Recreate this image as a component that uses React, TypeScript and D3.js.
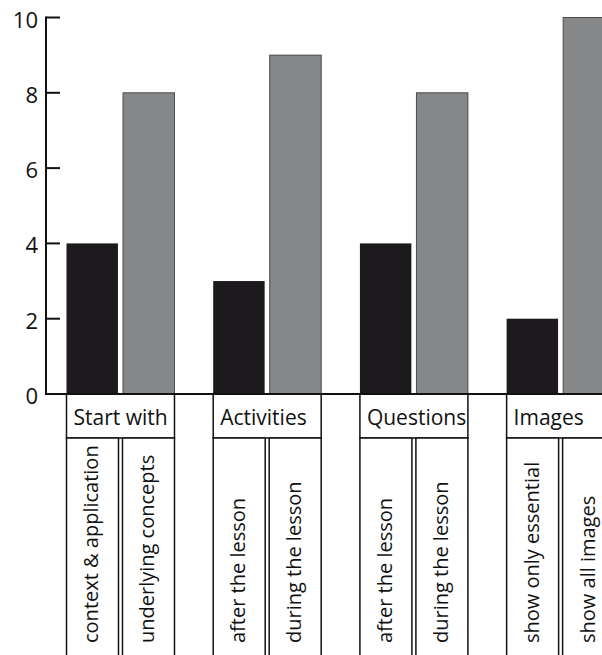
import * as d3 from 'd3';

const categories = ['Start with', 'Activities', 'Questions', 'Images'];
const optionLabels = [
  ['context & application', 'underlying concepts'],
  ['after the lesson', 'during the lesson'],
  ['after the lesson', 'during the lesson'],
  ['show only essential', 'show all images'],
];
const firstValues = [4, 3, 4, 2];
const secondValues = [8, 9, 8, 10];
const yTicks = [0, 2, 4, 6, 8, 10];

const WIDTH = 602;
const HEIGHT = 655;
const FONT = '"Open Sans", sans-serif';

export default function App() {
  const axisX = 46;
  const y = d3.scaleLinear().domain([0, 10]).range([394, 17.5]);
  const x = d3
    .scaleBand<string>()
    .domain(categories)
    .range([66.5, 614.6])
    .paddingInner(0.264)
    .paddingOuter(0);
  const inner = d3
    .scaleBand<number>()
    .domain([0, 1])
    .range([0, x.bandwidth()])
    .paddingInner(0.09);

  const base = y(0);
  const catBottom = base + 44;
  const labelStart = 643;

  return (
    <svg
      width={WIDTH}
      height={HEIGHT}
      style={{ position: 'absolute', left: 0, top: 0, background: '#fff' }}
      fontFamily={FONT}
    >
      {/* bars */}
      {categories.map((c, i) => {
        const x0 = x(c)!;
        return (
          <g key={c}>
            <rect
              x={x0 + inner(0)!}
              y={y(firstValues[i])}
              width={inner.bandwidth()}
              height={base - y(firstValues[i])}
              fill="#1c1a1c"
            />
            <rect
              x={x0 + inner(1)!}
              y={y(secondValues[i])}
              width={inner.bandwidth()}
              height={base - y(secondValues[i])}
              fill="#868789"
              stroke="#4a4a4a"
              strokeWidth={1}
            />
          </g>
        );
      })}

      {/* label boxes */}
      {categories.map((c, i) => {
        const x0 = x(c)!;
        const x1 = x0 + x.bandwidth();
        const mid = (x0 + x1) / 2;
        const subs = [
          [x0, mid - 2],
          [mid + 2, x1],
        ];
        return (
          <g key={c + '-box'}>
            <rect
              x={x0}
              y={base}
              width={x1 - x0}
              height={catBottom - base}
              fill="#fff"
              stroke="#111"
              strokeWidth={1.5}
            />
            <text x={x0 + 7} y={base + 31} fontSize={21} fill="#111">
              {c}
            </text>
            {subs.map(([a, b], j) => (
              <g key={j}>
                <rect
                  x={a}
                  y={catBottom}
                  width={b - a}
                  height={HEIGHT + 20 - catBottom}
                  fill="#fff"
                  stroke="#111"
                  strokeWidth={1.5}
                />
                <text
                  transform={`translate(${(a + b) / 2 + 6},${labelStart}) rotate(-90)`}
                  fontSize={20}
                  fill="#111"
                >
                  {optionLabels[i][j]}
                </text>
              </g>
            ))}
          </g>
        );
      })}

      {/* axes */}
      <line x1={axisX} x2={WIDTH} y1={base} y2={base} stroke="#111" strokeWidth={2} />
      <line x1={axisX} x2={axisX} y1={y(10) - 1} y2={base + 1} stroke="#111" strokeWidth={2} />
      {yTicks.map((t) => (
        <g key={t}>
          <line x1={axisX} x2={axisX + 14} y1={y(t)} y2={y(t)} stroke="#111" strokeWidth={2} />
          <text x={38} y={y(t) + 10} textAnchor="end" fontSize={22} fill="#111">
            {t}
          </text>
        </g>
      ))}
    </svg>
  );
}
